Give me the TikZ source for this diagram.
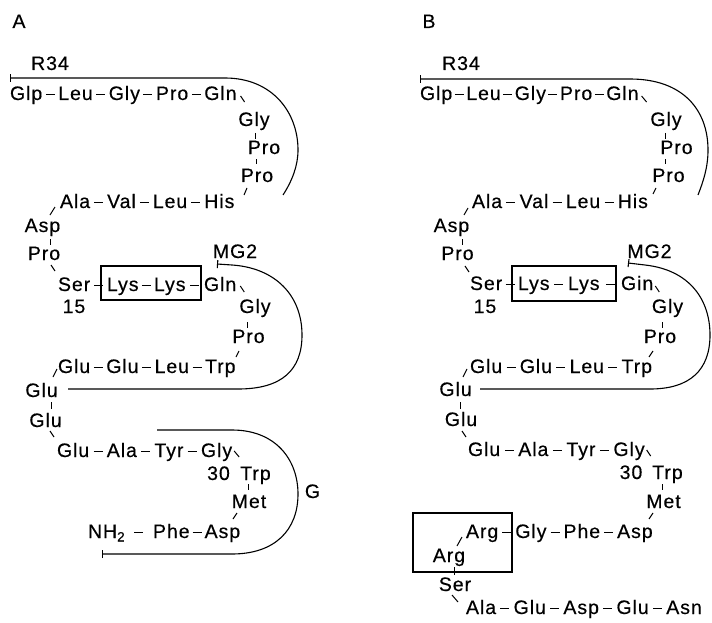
\documentclass[tikz,border=0pt]{standalone}
\usepackage{fontspec}
\setmainfont{Liberation Sans}
\newfontfamily\aafont[LetterSpace=5,FakeBold=0.4]{Liberation Sans}
\usetikzlibrary{arrows.meta,calc}
\newcommand\hy[2]{\draw[bond] ($(#1.base east)!0.5!(#2.base west)+(-4.5,-5.8)$) -- ++(9,0);}
\begin{document}
\begin{tikzpicture}[x=1pt,y=-1pt,
  aa/.style={anchor=base,inner sep=0pt,outer sep=0pt,font=\aafont\fontsize{19.5}{21}\selectfont},
  nx/.style={aa,anchor=base west},
  bond/.style={line width=1pt},
  chain/.style={line width=1.1pt},
  boxl/.style={line width=1.1pt},
  endbar/.style={{Bar[width=8pt,line width=1.1pt]}-}]
\useasboundingbox (0,0) rectangle (712,623);
% ================= Panel A =================
\node[aa] (labA) at (19,28) {A};
\node[aa] (r34a) at (50,70) {R34};
\node[nx] (glpA) at (10,100) {Glp};
\node[nx] (leu1A) at ([xshift=16pt]glpA.base east) {Leu};
\node[nx] (gly1A) at ([xshift=16pt]leu1A.base east) {Gly};
\node[nx] (pro1A) at ([xshift=16pt]gly1A.base east) {Pro};
\node[nx] (gln1A) at ([xshift=16pt]pro1A.base east) {Gln};
\node[aa] (gly2A) at (254,126) {Gly};
\node[aa] (pro2A) at (264,154) {Pro};
\node[aa] (pro3A) at (257,182) {Pro};
\node[nx] (alaA) at (60,208) {Ala};
\node[nx] (valA) at ([xshift=17pt]alaA.base east) {Val};
\node[nx] (leu2A) at ([xshift=17pt]valA.base east) {Leu};
\node[nx] (hisA) at ([xshift=17pt]leu2A.base east) {His};
\node[aa] (aspA) at (42.5,232) {Asp};
\node[aa] (pro4A) at (44,260) {Pro};
\node[nx] (serA) at (58,291) {Ser};
\node[nx] (lys1A) at (107,291) {Lys};
\node[nx] (lys2A) at (154,291) {Lys};
\node[nx] (gln2A) at (204,291) {Gln};
\node[aa] (n15A) at (74,313) {15};
\node[aa] (mg2A) at (235,258) {MG2};
\node[aa] (gly3A) at (255,313) {Gly};
\node[aa] (pro5A) at (248.5,343) {Pro};
\node[nx] (glu1A) at (58,373) {Glu};
\node[nx] (glu2A) at ([xshift=16pt]glu1A.base east) {Glu};
\node[nx] (leu3A) at ([xshift=16pt]glu2A.base east) {Leu};
\node[nx] (trpA) at ([xshift=16pt]leu3A.base east) {Trp};
\node[aa] (glu3A) at (41.5,397) {Glu};
\node[aa] (glu4A) at (45.5,427) {Glu};
\node[nx] (glu5A) at (57,457) {Glu};
\node[nx] (ala2A) at ([xshift=17.5pt]glu5A.base east) {Ala};
\node[nx] (tyrA) at ([xshift=17.5pt]ala2A.base east) {Tyr};
\node[nx] (gly4A) at ([xshift=17.5pt]tyrA.base east) {Gly};
\node[aa] (n30A) at (218.5,480) {30};
\node[aa] (trp2A) at (255.5,480) {Trp};
\node[aa] (metA) at (249,508) {Met};
\node[nx] (nh2A) at (88,538) {NH\raisebox{-3.5pt}{\fontsize{13.5}{13.5}\selectfont 2}};
\node[nx] (pheA) at (153,538) {Phe};
\node[nx] (asp2A) at ([xshift=15pt]pheA.base east) {Asp};
\node[aa] (gA) at (312.5,498) {G};
% hyphens A
\hy{glpA}{leu1A}\hy{leu1A}{gly1A}\hy{gly1A}{pro1A}\hy{pro1A}{gln1A}
\hy{alaA}{valA}\hy{valA}{leu2A}\hy{leu2A}{hisA}
\hy{serA}{lys1A}\hy{lys1A}{lys2A}\hy{lys2A}{gln2A}
\hy{glu1A}{glu2A}\hy{glu2A}{leu3A}\hy{leu3A}{trpA}
\hy{glu5A}{ala2A}\hy{ala2A}{tyrA}\hy{tyrA}{gly4A}
\hy{nh2A}{pheA}\hy{pheA}{asp2A}
% ticks A
\draw[bond] (gln1A.base east) ++(4,-4) -- ++(4,6);
\draw[bond] (gly2A.base) ++(1,7) -- ++(0,6);
\draw[bond] (pro2A.base) ++(-8,5) -- ++(0,5);
\draw[bond] (pro3A.base) ++(-10,6) -- ++(-3,7);
\draw[bond] (alaA.base west) ++(-5,-1) -- ++(-5,8);
\draw[bond] (aspA.base) ++(7.5,7) -- ++(0,6);
\draw[bond] (pro4A.base) ++(7,5) -- ++(4,6);
\draw[bond] (gln2A.base east) ++(4,-5) -- ++(4,6);
\draw[bond] (gly3A.base) ++(-8,9) -- ++(0,6);
\draw[bond] (pro5A.base) ++(-9.5,8) -- ++(-3,6);
\draw[bond] (glu1A.base west) ++(-1,-4) -- ++(-4,8);
\draw[bond] (glu3A.base) ++(9.5,5) -- ++(0,7);
\draw[bond] (glu4A.base) ++(4.5,4) -- ++(4,6);
\draw[bond] (gly4A.base east) ++(2,-6) -- ++(5,6);
\draw[bond] (trp2A.base) ++(-7.5,4) -- ++(0,6);
\draw[bond] (metA.base) ++(-12,5) -- ++(-4,6);
% box A
\draw[boxl] (101,266) rectangle (201,300);
% chains A
\coordinate (r34As) at (10,78);
\coordinate (r34Ae) at (283,195);
\draw[chain,endbar] (r34As) -- (225,78) .. controls (272,78) and (298,112) .. (298,150) .. controls (298,166) and (292,181) .. (r34Ae);
\coordinate (mg2As) at (217,264);
\coordinate (mg2Ae) at (68,389);
\draw[chain,endbar] (mg2As) -- (232,265) .. controls (276,268) and (302,296) .. (302,335) .. controls (302,370) and (282,389) .. (238,389) -- (mg2Ae);
\coordinate (gAs) at (157,430);
\coordinate (gAe) at (102,554);
\draw[chain,-{Bar[width=8pt,line width=1.1pt]}] (gAs) -- (232,430) .. controls (276,430) and (298,460) .. (298,494) .. controls (298,530) and (275,554) .. (232,554) -- (gAe);
% ================= Panel B =================
\node[aa] (labB) at (429,28) {B};
\node[aa] (r34b) at (461,70) {R34};
\node[nx] (glpB) at (420,100) {Glp};
\node[nx] (leu1B) at ([xshift=14pt]glpB.base east) {Leu};
\node[nx] (gly1B) at ([xshift=14pt]leu1B.base east) {Gly};
\node[nx] (pro1B) at ([xshift=14pt]gly1B.base east) {Pro};
\node[nx] (gln1B) at ([xshift=14pt]pro1B.base east) {Gln};
\node[aa] (gly2B) at (666,126) {Gly};
\node[aa] (pro2B) at (676.5,154) {Pro};
\node[aa] (pro3B) at (668.5,182) {Pro};
\node[nx] (alaB) at (472,208) {Ala};
\node[nx] (valB) at ([xshift=17.5pt]alaB.base east) {Val};
\node[nx] (leu2B) at ([xshift=17.5pt]valB.base east) {Leu};
\node[nx] (hisB) at ([xshift=17.5pt]leu2B.base east) {His};
\node[aa] (aspB) at (451.5,232) {Asp};
\node[aa] (pro4B) at (457.5,260) {Pro};
\node[nx] (serB) at (470,290) {Ser};
\node[nx] (lys1B) at (518,290) {Lys};
\node[nx] (lys2B) at (568,290) {Lys};
\node[nx] (gin2B) at (621,290) {Gin};
\node[aa] (n15B) at (485,313) {15};
\node[aa] (mg2B) at (649.5,258) {MG2};
\node[aa] (gly3B) at (667.5,313) {Gly};
\node[aa] (pro5B) at (660,343) {Pro};
\node[nx] (glu1B) at (470,373) {Glu};
\node[nx] (glu2B) at ([xshift=17.5pt]glu1B.base east) {Glu};
\node[nx] (leu3B) at ([xshift=17.5pt]glu2B.base east) {Leu};
\node[nx] (trpB) at ([xshift=17.5pt]leu3B.base east) {Trp};
\node[aa] (glu3B) at (455.5,396) {Glu};
\node[aa] (glu4B) at (461,426) {Glu};
\node[nx] (glu5B) at (468,456) {Glu};
\node[nx] (ala2B) at ([xshift=18pt]glu5B.base east) {Ala};
\node[nx] (tyrB) at ([xshift=18pt]ala2B.base east) {Tyr};
\node[nx] (gly4B) at ([xshift=18pt]tyrB.base east) {Gly};
\node[aa] (n30B) at (631,479) {30};
\node[aa] (trp2B) at (667.5,479) {Trp};
\node[aa] (metB) at (663.5,508) {Met};
\node[nx] (arg1B) at (466,538) {Arg};
\node[nx] (gly5B) at ([xshift=17pt]arg1B.base east) {Gly};
\node[nx] (pheB) at ([xshift=17pt]gly5B.base east) {Phe};
\node[nx] (asp2B) at ([xshift=17pt]pheB.base east) {Asp};
\node[aa] (arg2B) at (449,562) {Arg};
\node[aa] (ser2B) at (455,591) {Ser};
\node[nx] (ala3B) at (466,614) {Ala};
\node[nx] (glu6B) at ([xshift=17.5pt]ala3B.base east) {Glu};
\node[nx] (asp3B) at ([xshift=17.5pt]glu6B.base east) {Asp};
\node[nx] (glu7B) at ([xshift=17.5pt]asp3B.base east) {Glu};
\node[nx] (asnB) at ([xshift=17.5pt]glu7B.base east) {Asn};
% hyphens B
\hy{glpB}{leu1B}\hy{leu1B}{gly1B}\hy{gly1B}{pro1B}\hy{pro1B}{gln1B}
\hy{alaB}{valB}\hy{valB}{leu2B}\hy{leu2B}{hisB}
\hy{serB}{lys1B}\hy{lys1B}{lys2B}\hy{lys2B}{gin2B}
\hy{glu1B}{glu2B}\hy{glu2B}{leu3B}\hy{leu3B}{trpB}
\hy{glu5B}{ala2B}\hy{ala2B}{tyrB}\hy{tyrB}{gly4B}
\hy{arg1B}{gly5B}\hy{gly5B}{pheB}\hy{pheB}{asp2B}
\hy{ala3B}{glu6B}\hy{glu6B}{asp3B}\hy{asp3B}{glu7B}\hy{glu7B}{asnB}
% ticks B
\draw[bond] (gln1B.base east) ++(3,-4) -- ++(5,6);
\draw[bond] (gly2B.base) ++(-1,7) -- ++(0,6);
\draw[bond] (pro2B.base) ++(-11.5,5) -- ++(0,5);
\draw[bond] (pro3B.base) ++(-12.5,6) -- ++(-3,6);
\draw[bond] (alaB.base west) ++(-4,0) -- ++(-4,7);
\draw[bond] (aspB.base) ++(10.5,7) -- ++(0,6);
\draw[bond] (pro4B.base) ++(7.5,6) -- ++(4,6);
\draw[bond] (gin2B.base east) ++(2,-4) -- ++(4,6);
\draw[bond] (gly3B.base) ++(-5.5,9) -- ++(0,6);
\draw[bond] (pro5B.base) ++(-7,8) -- ++(-4,6);
\draw[bond] (glu1B.base west) ++(-3,-4) -- ++(-4,8);
\draw[bond] (glu3B.base) ++(4.5,6) -- ++(0,7);
\draw[bond] (glu4B.base) ++(1,5) -- ++(4,6);
\draw[bond] (gly4B.base east) ++(2,-6) -- ++(4,6);
\draw[bond] (trp2B.base) ++(-5.5,5) -- ++(0,6);
\draw[bond] (metB.base) ++(-10.5,5) -- ++(-4,6);
\draw[bond] (arg1B.base west) ++(-4,-1) -- ++(-5,9);
\draw[bond] (arg2B.base) ++(5,5) -- ++(0,8);
\draw[bond] (ser2B.base) ++(-3,4) -- ++(6,7);
% boxes B
\draw[boxl] (512,266) rectangle (616,301);
\draw[boxl] (413,513) rectangle (512,572);
% chains B
\coordinate (r34Bs) at (420,79);
\coordinate (r34Be) at (698,195);
\draw[chain,endbar] (r34Bs) -- (630,79) .. controls (683,79) and (708,110) .. (708,150) .. controls (708,168) and (703,182) .. (r34Be);
\coordinate (mg2Bs) at (628,263);
\coordinate (mg2Be) at (480,389);
\draw[chain,endbar] (mg2Bs) -- (645,265) .. controls (690,270) and (710,300) .. (710,335) .. controls (710,370) and (690,389) .. (650,389) -- (mg2Be);
\end{tikzpicture}
\end{document}
